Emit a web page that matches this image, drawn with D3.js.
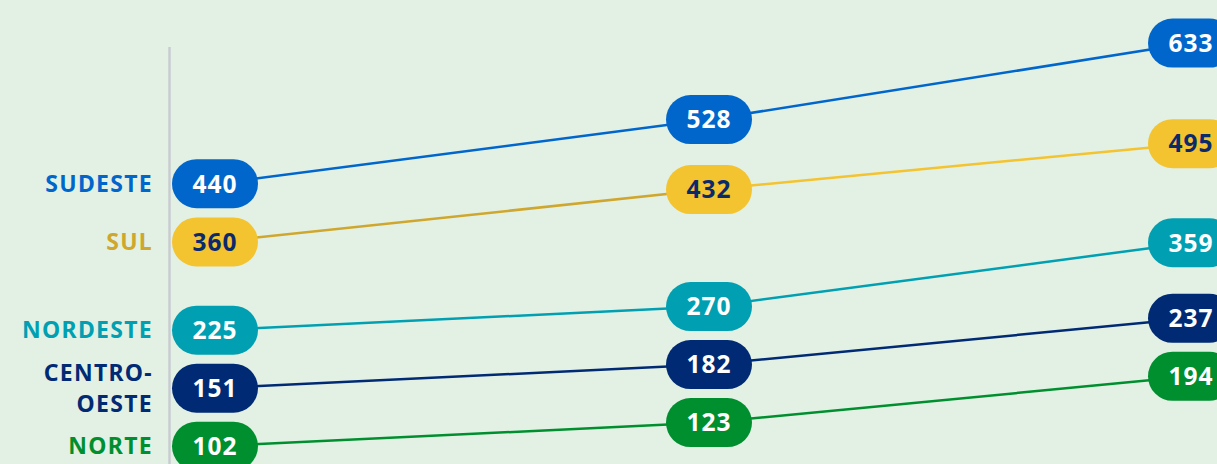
<!DOCTYPE html>
<html>
<head>
<meta charset="utf-8">
<script src="https://cdn.jsdelivr.net/npm/d3@7"></script>
<style>
  html, body { margin: 0; padding: 0; background: #e3f1e4; }
  svg { display: block; }
</style>
</head>
<body>
<svg width="1217" height="464"></svg>
<script>
// data
var periods = ["p1", "p2", "p3"];
var regions = ["SUDESTE", "SUL", "NORDESTE", "CENTRO-OESTE", "NORTE"];
var labelLines = [["SUDESTE"], ["SUL"], ["NORDESTE"], ["CENTRO-", "OESTE"], ["NORTE"]];
var sudeste = [440, 528, 633];
var sul = [360, 432, 495];
var nordeste = [225, 270, 359];
var centroOeste = [151, 182, 237];
var norte = [102, 123, 194];

var pillColors = ["#0066cc", "#f4c330", "#00a0b2", "#002a73", "#008f2f"];
var labelColors = ["#0066cc", "#cfa72e", "#00a0b2", "#002a73", "#008f2f"];
var numColors = ["#ffffff", "#0b2a6b", "#ffffff", "#ffffff", "#ffffff"];

var series = [sudeste, sul, nordeste, centroOeste, norte];

var svg = d3.select("svg"),
    pillW = 86,
    pillH = 49,
    minGap = 58;

var x = d3.scaleOrdinal().domain(periods).range([215, 709, 1191]);
var y = d3.scaleLinear().domain([100, 640]).range([431.4, 38]);

// position every pill, then push apart the ones that overlap in a column
var pos = series.map(function (s) { return s.map(function (v) { return y(v); }); });
periods.forEach(function (p, j) {
  var col = series.map(function (s, i) { return { i: i, y: y(s[j]) }; })
    .sort(function (a, b) { return a.y - b.y; });
  var groups = col.map(function (d) { return { items: [d], mean: d.y }; });
  var merged = true;
  while (merged) {
    merged = false;
    for (var k = 0; k < groups.length - 1; k++) {
      var a = groups[k], b = groups[k + 1];
      var aBottom = a.mean + (a.items.length - 1) * minGap / 2;
      var bTop = b.mean - (b.items.length - 1) * minGap / 2;
      if (bTop - aBottom < minGap) {
        var items = a.items.concat(b.items);
        var m = d3.mean(items, function (d) { return d.y; });
        groups.splice(k, 2, { items: items, mean: m });
        merged = true;
        break;
      }
    }
  }
  groups.forEach(function (g) {
    var n = g.items.length;
    g.items.forEach(function (d, t) {
      pos[d.i][j] = g.mean + (t - (n - 1) / 2) * minGap;
    });
  });
});

// vertical rule
svg.append("line")
  .attr("x1", 169.5).attr("x2", 169.5)
  .attr("y1", 47).attr("y2", 464)
  .attr("stroke", "#c8ccd0")
  .attr("stroke-width", 2.5);

// connecting lines
series.forEach(function (s, i) {
  for (var j = 0; j < s.length - 1; j++) {
    svg.append("line")
      .attr("x1", x(periods[j])).attr("y1", pos[i][j])
      .attr("x2", x(periods[j + 1])).attr("y2", pos[i][j + 1])
      .attr("stroke", j == 0 ? labelColors[i] : pillColors[i])
      .attr("stroke-width", 2.5);
  }
});

// pills
series.forEach(function (s, i) {
  var g = svg.append("g");
  s.forEach(function (v, j) {
    g.append("rect")
      .attr("x", x(periods[j]) - pillW / 2)
      .attr("y", pos[i][j] - pillH / 2)
      .attr("width", pillW)
      .attr("height", pillH)
      .attr("rx", pillH / 2)
      .attr("fill", pillColors[i]);
    g.append("text")
      .attr("x", x(periods[j]))
      .attr("y", pos[i][j])
      .attr("dy", "0.36em")
      .attr("text-anchor", "middle")
      .attr("font-family", "Noto Sans")
      .attr("font-weight", "bold")
      .attr("font-size", "24.5px")
      .attr("letter-spacing", "1px")
      .attr("fill", numColors[i])
      .text(v);
  });
});

// region labels
labelLines.forEach(function (lines, i) {
  var t = svg.append("text")
    .attr("x", 153)
    .attr("y", pos[i][0] - (lines.length - 1) * 15.5)
    .attr("text-anchor", "end")
    .attr("font-family", "Noto Sans")
    .attr("font-weight", "bold")
    .attr("font-size", "23px")
    .attr("letter-spacing", "1.3px")
    .attr("fill", labelColors[i]);
  lines.forEach(function (l, k) {
    t.append("tspan")
      .attr("x", 153)
      .attr("dy", k == 0 ? "0.35em" : "31px")
      .text(l);
  });
});
</script>
</body>
</html>
